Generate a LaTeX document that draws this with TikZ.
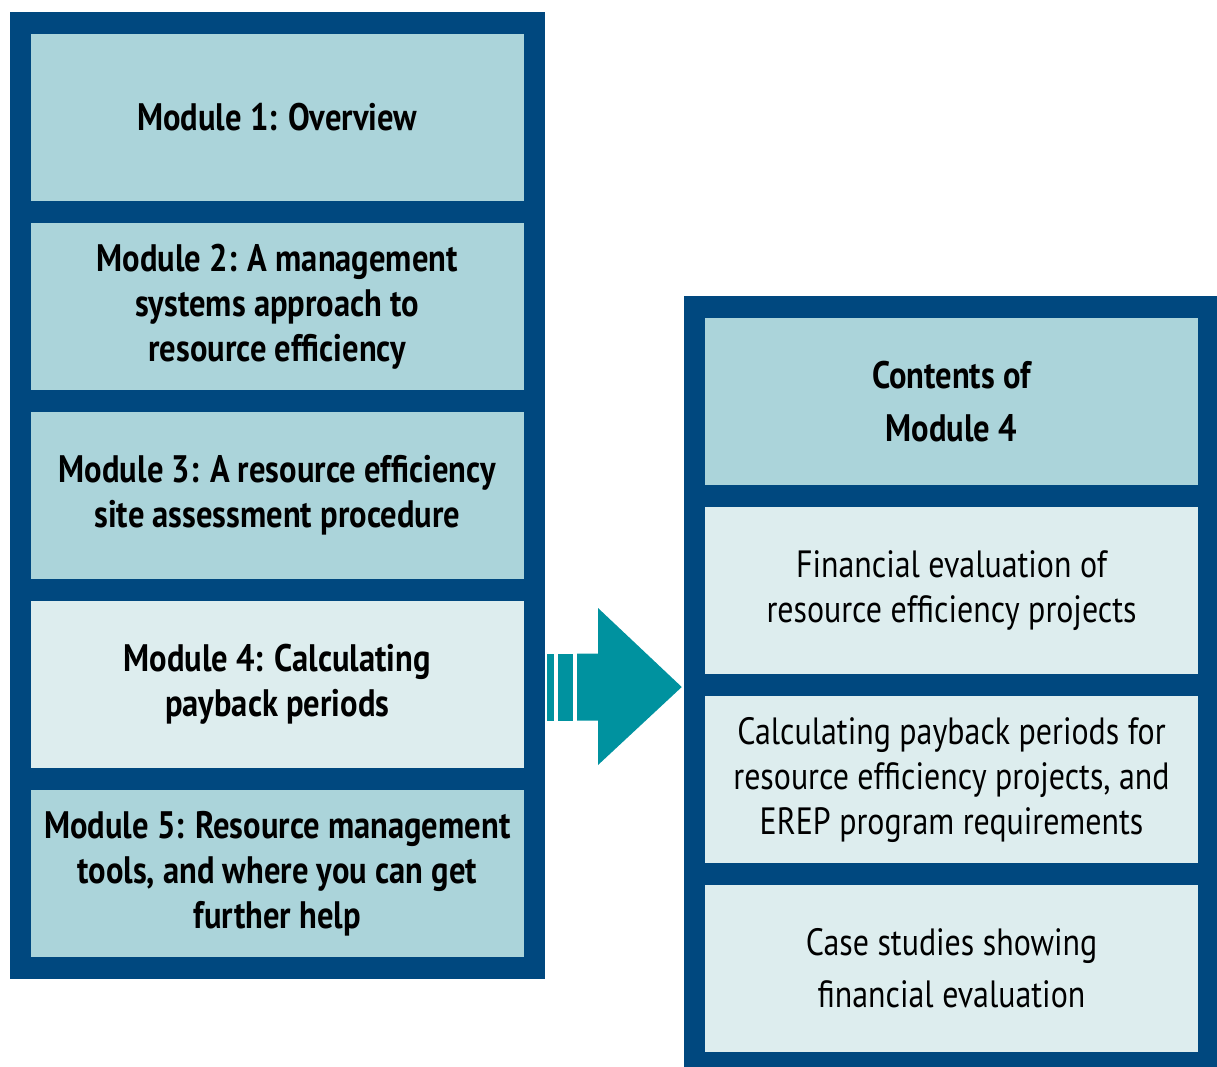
\documentclass[tikz,border=0pt]{standalone}
\usepackage{fontspec}
\setmainfont{PT Sans}[FakeStretch=0.84]
\newfontfamily\headfont{PT Sans}[FakeStretch=0.85,UprightFont=*-Bold]
\usetikzlibrary{calc}
\definecolor{frame}{HTML}{00487F}
\definecolor{cellmid}{HTML}{ABD4DA}
\definecolor{celllight}{HTML}{DDEDEE}
\definecolor{teal}{HTML}{00929F}
\begin{document}
\begin{tikzpicture}[x=1pt,y=-1pt,
  cell/.style={draw=frame,line width=21.5pt,minimum width=514pt,minimum height=189pt,
    inner sep=0pt,outer sep=0pt,align=center,text=black},
  boldtxt/.style={font=\fontsize{38.3}{45}\selectfont\headfont},
  plaintxt/.style={font=\fontsize{38}{45}\selectfont},
  mid/.style={fill=cellmid},
  light/.style={fill=celllight}]
\useasboundingbox (0,0) rectangle (1217,1066);
% left column of modules
\node[cell,mid,boldtxt]   (m1) at (277.25,117.5) {Module 1: Overview};
\node[cell,mid,boldtxt]   (m2) at (277.25,306.5) {Module 2: A management\\systems approach to\\resource efficiency};
\node[cell,mid,boldtxt]   (m3) at (277.25,495.5) {Module 3: A resource efficiency\\site assessment procedure};
\node[cell,light,boldtxt] (m4) at (277.25,684.5) {Module 4: Calculating\\payback periods};
\node[cell,mid,boldtxt]   (m5) at (277.25,873.5) {Module 5: Resource management\\tools, and where you can get\\further help};
% right column: contents of module 4
\node[cell,mid,font=\fontsize{38.3}{53}\selectfont\headfont] (c0) at (951.5,401.5) {Contents of\\Module 4};
\node[cell,light,plaintxt] (c1) at (951.5,590.5) {Financial evaluation of\\resource efficiency projects};
\node[cell,light,plaintxt] (c2) at (951.5,779.5) {Calculating payback periods for\\resource efficiency projects, and\\EREP program requirements};
\node[cell,light,font=\fontsize{38}{52}\selectfont] (c3) at (951.5,968.5) {Case studies showing\\financial evaluation};
% striped arrow from module 4 to the contents panel
\coordinate (s) at ($(m4.east)+(12.75,2.5)$);
\coordinate (t) at ($(c1.west |- s)+(-12.75,0)$);
\fill[teal] ($(s)+(0,-33.5)$) rectangle ($(s)+(7,33.5)$);
\fill[teal] ($(s)+(11,-33.5)$) rectangle ($(s)+(26,33.5)$);
\fill[teal] ($(s)+(30,-33.5)$) -- ($(s)+(51,-33.5)$) -- ($(s)+(51,-79)$)
  -- (t) -- ($(s)+(51,78)$) -- ($(s)+(51,33.5)$) -- ($(s)+(30,33.5)$) -- cycle;
\end{tikzpicture}
\end{document}
